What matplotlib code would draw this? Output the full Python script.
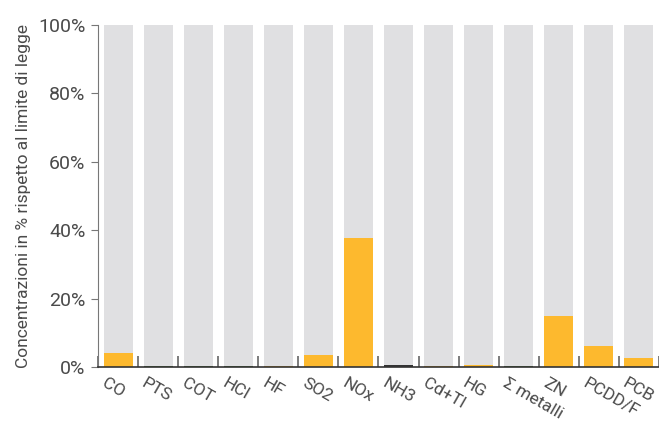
import numpy as np
import matplotlib
matplotlib.use('Agg')
import matplotlib.pyplot as plt
from matplotlib.ticker import FuncFormatter
import matplotlib.transforms as mtransforms

# data (% of legal limit)
categories = ['CO', 'PTS', 'COT', 'HCl', 'HF', 'SO2', 'NOx', 'NH3', 'Cd+Tl', 'HG',
              '\u03a3 metalli', 'ZN', 'PCDD/F', 'PCB']
values = [4.1, 0.3, 0.3, 0.3, 0.4, 3.4, 37.6, 0.5, 0.3, 0.6, 0.3, 15.0, 6.1, 2.6]
limit = [100] * len(categories)

# styles
orange = '#FDB92E'
grey = '#E0E0E2'
bar_colors = [orange, '#4E7A3A', '#4E7A3A', '#4E7A3A', orange, orange, orange,
              '#333333', orange, orange, '#4E7A3A', orange, orange, orange]
text_col = '#4A4A4A'

plt.rcParams['font.family'] = ['Roboto', 'DejaVu Sans']

fig = plt.figure(figsize=(6.59, 4.23), dpi=100)
ax = fig.add_axes([0.1487, 0.1324, 0.8513, 0.8085])

x = np.arange(len(categories))
ax.bar(x, limit, width=0.725, color=grey)
ax.bar(x, values, width=0.725, color=bar_colors)

ax.set_xlim(-0.5, len(categories) - 0.5)
ax.set_ylim(0, 100)
ax.set_yticks(np.arange(0, 101, 20))
ax.yaxis.set_major_formatter(FuncFormatter(lambda v, p: f'{v:.0f}%'))
ax.tick_params(axis='y', labelsize=14, colors='#777777', labelcolor=text_col,
               length=5, pad=4)
ax.set_ylabel('Concentrazioni in % rispetto al limite di legge', fontsize=12.5,
              color=text_col, labelpad=5)

# boundary ticks on x axis, labels at bar centers
ax.set_xticks(np.arange(-0.5, len(categories), 1.0))
ax.set_xticklabels([])
ax.tick_params(axis='x', direction='in', length=8, width=1.2, color='#666666')
offset = mtransforms.ScaledTranslation(-11 / 100, -9 / 100, fig.dpi_scale_trans)
for i, lab in enumerate(categories):
    ax.text(i, 0, lab, rotation=-30, rotation_mode='anchor', ha='left', va='top',
            fontsize=12.5, color=text_col,
            transform=ax.get_xaxis_transform() + offset)

for side in ['top', 'right']:
    ax.spines[side].set_visible(False)
ax.spines['left'].set_color('#777777')
ax.spines['bottom'].set_color('#333333')
ax.spines['bottom'].set_linewidth(1.2)

fig.savefig('out.png', dpi=100)
